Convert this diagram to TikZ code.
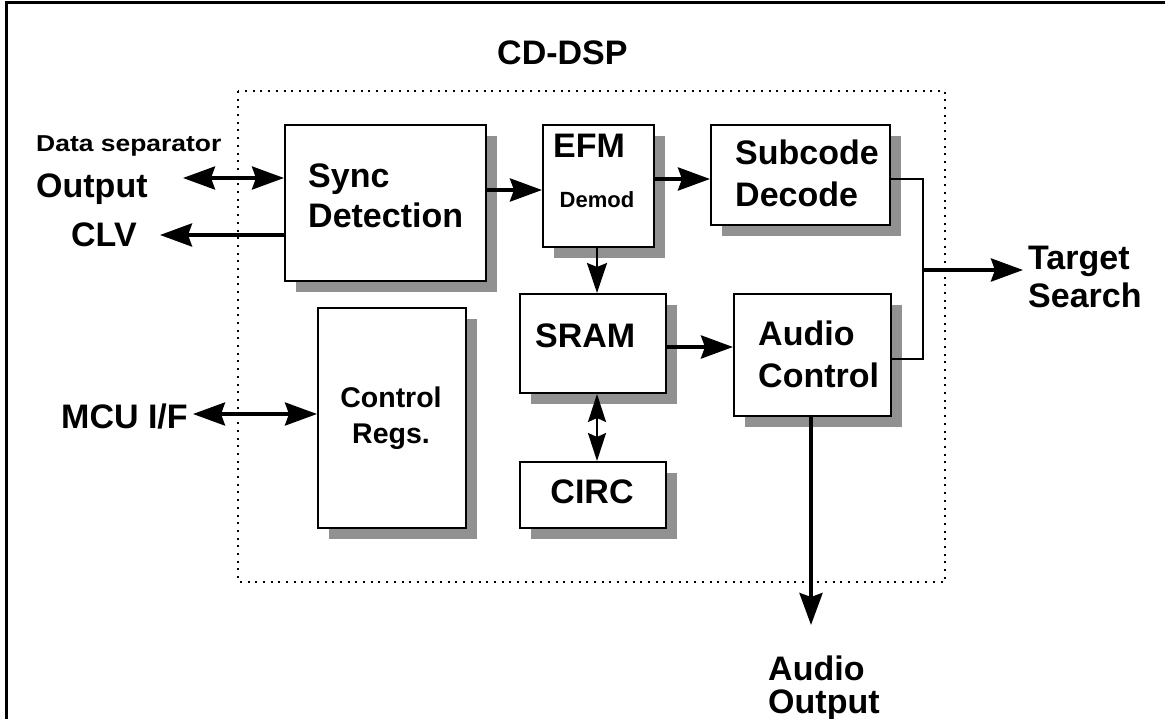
\documentclass[tikz,border=0pt]{standalone}
\usepackage{fontspec}
\setmainfont{Liberation Sans}
\usetikzlibrary{arrows.meta,shadows}
\definecolor{shadowgray}{RGB}{145,145,145}
\tikzset{
  box/.style={draw, line width=2pt, fill=white, rectangle, anchor=north west, inner sep=0pt,
    drop shadow={shadow xshift=11pt, shadow yshift=-11pt, fill=shadowgray, opacity=1}},
  lbl/.style={inner sep=0pt, anchor=base west, font=\bfseries\fontsize{34}{40}\selectfont},
  lblc/.style={inner sep=0pt, anchor=base, font=\bfseries\fontsize{34}{40}\selectfont},
  bigarrow/.style={line width=4pt, -{Stealth[length=32pt,width=23pt,inset=4pt]}},
  bigdouble/.style={line width=3.5pt, {Stealth[length=32pt,width=23pt,inset=4pt]}-{Stealth[length=32pt,width=23pt,inset=4pt]}},
  thinarrow/.style={line width=2pt, -{Stealth[length=30pt,width=20pt,inset=4pt]}},
  thindouble/.style={line width=2pt, {Stealth[length=28pt,width=18pt,inset=4pt]}-{Stealth[length=28pt,width=18pt,inset=4pt]}},
  dotbox/.style={line width=2pt, dash pattern=on 2pt off 5.7pt},
}
\begin{document}
\begin{tikzpicture}[x=1pt,y=-1pt]
\useasboundingbox (0,0) rectangle (1165,719);
% frame (top and left edges)
\draw[line width=3pt] (6,719) -- (6,3) -- (1165,3);
% dotted CD-DSP boundary
\draw[dotbox] (238,91) rectangle (945,582);
\node[lbl] (title) at (497,65) {CD-DSP};

% boxes
\node[box, minimum width=201pt, minimum height=156pt] (sync) at (284,124) {};
\node[box, minimum width=111pt, minimum height=122pt] (efm) at (542,124) {};
\node[box, minimum width=179pt, minimum height=100pt] (sub) at (710,124) {};
\node[box, minimum width=146pt, minimum height=99pt] (sram) at (519,293) {};
\node[box, minimum width=146pt, minimum height=66pt] (circ) at (519,461) {};
\node[box, minimum width=148pt, minimum height=220pt] (ctrl) at (317,307) {};
\node[box, minimum width=157pt, minimum height=122pt] (audio) at (733,293) {};

% box texts
\node[lbl] (t-sync1) at (308,188) {Sync};
\node[lbl] (t-sync2) at (308,228) {Detection};
\node[lbl] (t-efm1) at (553,158) {EFM};
\node[lblc, font=\bfseries\fontsize{22}{26}\selectfont] (t-efm2) at (597,208) {Demod};
\node[lbl] (t-sub1) at (735,165) {Subcode};
\node[lbl] (t-sub2) at (735,207) {Decode};
\node[lbl] (t-sram) at (535,348) {SRAM};
\node[lblc] (t-circ) at (592,503) {CIRC};
\node[lblc, font=\bfseries\fontsize{28.5}{34}\selectfont] (t-ctrl1) at (391,407) {Control};
\node[lblc, font=\bfseries\fontsize{28.5}{34}\selectfont] (t-ctrl2) at (391,443) {Regs.};
\node[lbl] (t-aud1) at (758,345) {Audio};
\node[lbl] (t-aud2) at (758,387) {Control};

% outside labels
\node[lbl, font=\bfseries\fontsize{23}{28}\selectfont] (dsep) at (36,152) {\scalebox{1.15}[1]{Data separator}};
\node[lbl] (out) at (36,198) {Output};
\node[lbl] (clv) at (71,247) {CLV};
\node[lbl] (mcu) at (61,428) {MCU I/F};
\node[lbl] (tgt1) at (1028,270) {Target};
\node[lbl] (tgt2) at (1028,308) {Search};
\node[lbl] (ao1) at (768,680) {Audio};
\node[lbl] (ao2) at (768,713) {Output};

% coordinates for free ends
\coordinate (outend) at (183,178);
\coordinate (clvend) at (160,235);
\coordinate (mcuend) at (193,414);
\coordinate (junc) at (923,270);
\coordinate (tgtend) at (1023,270);
\coordinate (aoend) at (811,625);

% connectors
\draw[bigdouble] (outend) -- (sync.west |- outend);
\draw[bigarrow] (sync.west |- clvend) -- (clvend);
\draw[bigarrow] (sync.east |- 0,190) -- (efm.west |- 0,190);
\draw[bigarrow] (efm.east |- 0,179) -- (sub.west |- 0,179);
\draw[thinarrow] (efm.south -| 597,0) -- (sram.north -| 597,0);
\draw[thindouble] (sram.south -| 597,0) -- (circ.north -| 597,0);
\draw[bigarrow] (sram.east |- 0,347) -- (audio.west |- 0,347);
\draw[bigdouble] (mcuend) -- (ctrl.west |- mcuend);
\draw[line width=2pt] (sub.east |- 0,179) -- (923,179) -- (923,359) -- (audio.east |- 0,359);
\draw[bigarrow] (junc) -- (tgtend);
\draw[bigarrow] (audio.south -| aoend) -- (aoend);
\end{tikzpicture}
\end{document}
